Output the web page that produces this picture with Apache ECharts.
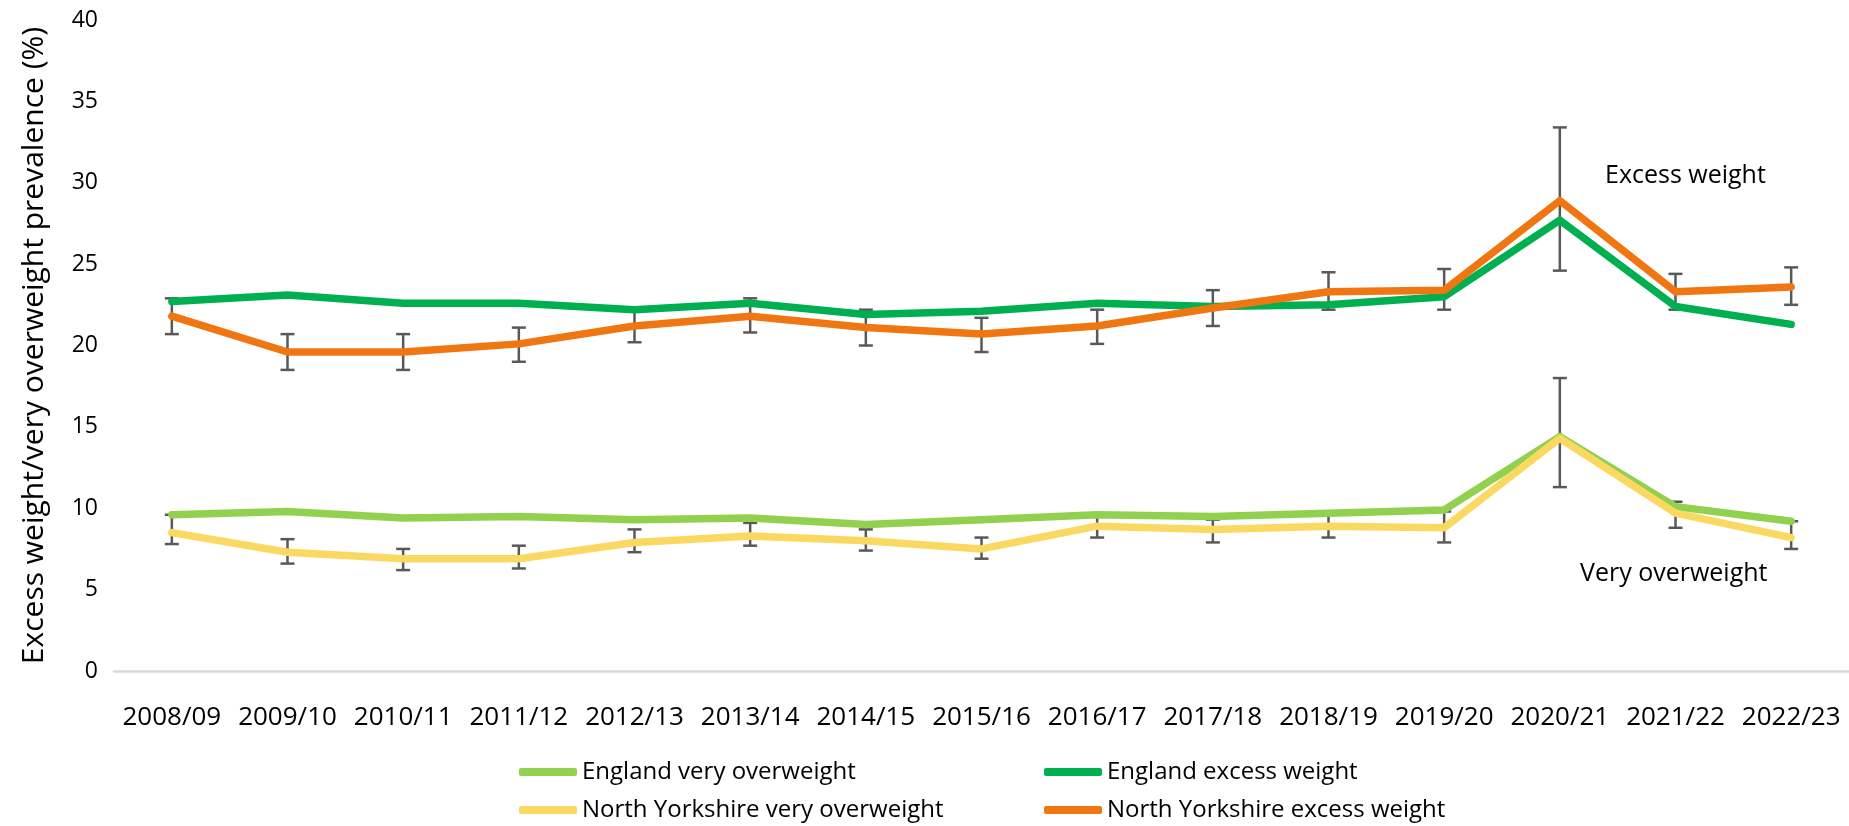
<!DOCTYPE html>
<html>
<head>
<meta charset="utf-8">
<script src="https://cdn.jsdelivr.net/npm/echarts@6/dist/echarts.min.js"></script>
<style>
  html,body{margin:0;padding:0;background:#fff;}
  #chart{width:1849px;height:826px;}
</style>
</head>
<body>
<div id="chart"></div>
<script>
  //年份
  var years = ['2008/09','2009/10','2010/11','2011/12','2012/13','2013/14','2014/15','2015/16',
               '2016/17','2017/18','2018/19','2019/20','2020/21','2021/22','2022/23'];

  //England
  var engVery   = [9.6, 9.8, 9.4, 9.5, 9.3, 9.4, 9.0, 9.3, 9.6, 9.5, 9.7, 9.9, 14.4, 10.1, 9.2];
  var engExcess = [22.7, 23.1, 22.6, 22.6, 22.2, 22.6, 21.9, 22.1, 22.6, 22.4, 22.5, 23.0, 27.7, 22.4, 21.3];

  //North Yorkshire
  var nyVery     = [8.5, 7.3, 6.9, 6.9, 7.9, 8.3, 8.0, 7.5, 8.9, 8.7, 8.9, 8.8, 14.3, 9.7, 8.2];
  var nyVeryLow  = [7.8, 6.6, 6.2, 6.3, 7.3, 7.7, 7.4, 6.9, 8.2, 7.9, 8.2, 7.9, 11.3, 8.8, 7.5];
  var nyVeryHigh = [9.6, 8.1, 7.5, 7.7, 8.7, 9.1, 8.7, 8.2, 9.6, 9.3, 9.6, 9.8, 18.0, 10.4, 9.2];

  var nyExcess     = [21.8, 19.6, 19.6, 20.1, 21.2, 21.8, 21.1, 20.7, 21.2, 22.3, 23.3, 23.4, 28.9, 23.3, 23.6];
  var nyExcessLow  = [20.7, 18.5, 18.5, 19.0, 20.2, 20.8, 20.0, 19.6, 20.1, 21.2, 22.2, 22.2, 24.6, 22.2, 22.5];
  var nyExcessHigh = [22.9, 20.7, 20.7, 21.1, 22.1, 22.9, 22.2, 21.7, 22.2, 23.4, 24.5, 24.7, 33.4, 24.4, 24.8];

  //y轴刻度
  var yTicks = [0, 5, 10, 15, 20, 25, 30, 35, 40];

  var font = 'Open Sans';

  //误差线
  function errorData(low, high){
    return years.map(function(y, i){ return [i, low[i], high[i]]; });
  }

  function renderError(params, api){
    var p1 = api.coord([api.value(0), api.value(1)]);
    var p2 = api.coord([api.value(0), api.value(2)]);
    var hw = 7;
    var st = {stroke:'#595959', lineWidth:2.5};
    return {
      type:'group',
      children:[
        {type:'line', shape:{x1:p1[0], y1:p1[1], x2:p2[0], y2:p2[1]}, style:st},
        {type:'line', shape:{x1:p1[0]-hw, y1:p1[1], x2:p1[0]+hw, y2:p1[1]}, style:st},
        {type:'line', shape:{x1:p2[0]-hw, y1:p2[1], x2:p2[0]+hw, y2:p2[1]}, style:st}
      ]
    };
  }

  function lineSeries(name, data, color){
    return {
      name: name,
      type: 'line',
      data: data,
      symbol: 'none',
      z: 3,
      lineStyle: {color: color, width: 7.5, cap:'round', join:'round'},
      itemStyle: {color: color}
    };
  }

  var legendText = {fontFamily: font, fontSize: 24, color: '#000'};

  var option = {
    animation: false,
    backgroundColor: '#fff',
    grid: {left: 114, right: -3, top: 20, bottom: 155},
    legend: [
      {
        left: 514, top: 755, height: 100, orient: 'vertical', itemGap: 14,
        icon: 'roundRect', itemWidth: 58, itemHeight: 8,
        textStyle: legendText,
        data: ['England very overweight', 'North Yorkshire very overweight']
      },
      {
        left: 1039, top: 755, height: 100, orient: 'vertical', itemGap: 14,
        icon: 'roundRect', itemWidth: 58, itemHeight: 8,
        textStyle: legendText,
        data: ['England excess weight', 'North Yorkshire excess weight']
      }
    ],
    xAxis: {
      type: 'category',
      data: years,
      boundaryGap: true,
      axisLine: {lineStyle: {color: '#d9d9d9', width: 2.5}},
      axisTick: {show: false},
      axisLabel: {fontFamily: font, fontSize: 26, color: '#000', margin: 34, interval: 0}
    },
    yAxis: {
      type: 'value',
      min: yTicks[0], max: yTicks[yTicks.length-1], interval: 5,
      name: 'Excess weight/very overweight prevalence (%)',
      nameLocation: 'middle', nameRotate: 90, nameGap: 65,
      nameTextStyle: {fontFamily: font, fontSize: 30, color: '#000'},
      axisLine: {show: false},
      axisTick: {show: false},
      splitLine: {show: false},
      axisLabel: {fontFamily: font, fontSize: 23, color: '#000', margin: 16}
    },
    graphic: [
      {type:'text', left: 1605, top: 163, style:{text:'Excess weight', font:'25px "Open Sans"', fill:'#000'}},
      {type:'text', left: 1580, top: 561, style:{text:'Very overweight', font:'25px "Open Sans"', fill:'#000'}}
    ],
    series: [
      {type:'custom', name:'err1', data: errorData(nyVeryLow, nyVeryHigh), renderItem: renderError, z: 2, silent: true},
      {type:'custom', name:'err2', data: errorData(nyExcessLow, nyExcessHigh), renderItem: renderError, z: 2, silent: true},
      lineSeries('England very overweight', engVery, '#92d050'),
      lineSeries('England excess weight', engExcess, '#00b050'),
      lineSeries('North Yorkshire very overweight', nyVery, '#fad962'),
      lineSeries('North Yorkshire excess weight', nyExcess, '#f07611')
    ]
  };

  var myChart = echarts.init(document.getElementById('chart'));
  myChart.setOption(option);
</script>
</body>
</html>
